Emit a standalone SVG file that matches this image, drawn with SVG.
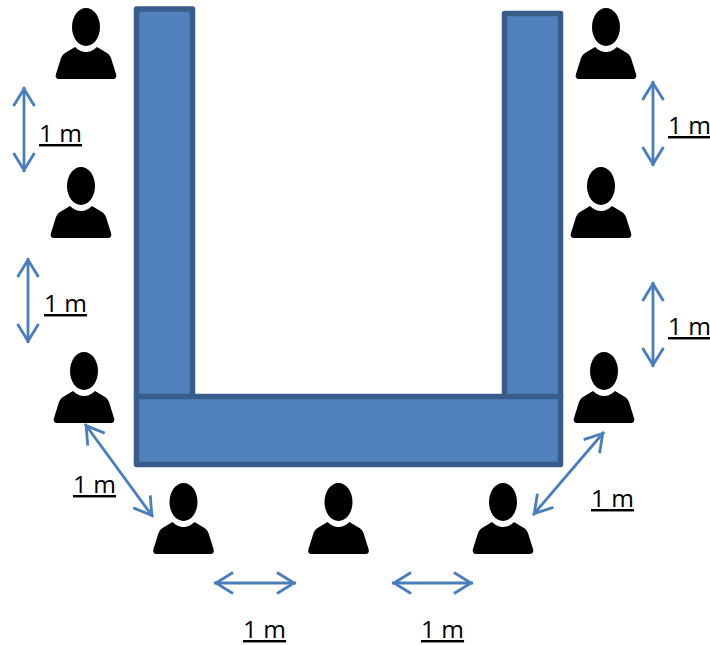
<svg xmlns="http://www.w3.org/2000/svg" width="710" height="645" viewBox="0 0 710 645">
<style>
.t{fill:#4f81bd;stroke:#385d8a;stroke-width:5.5;stroke-linejoin:round}
.c{fill:none;stroke:#4a7ebb;stroke-width:2.800;marker-start:url(#a);marker-end:url(#a)}
.l{font-family:"Open Sans","Liberation Sans",sans-serif;font-size:24.500px;fill:#000;text-decoration:underline}
</style>
<defs>
<marker id="a" markerUnits="userSpaceOnUse" viewBox="0 0 24 24" refX="20" refY="12" markerWidth="24" markerHeight="24" orient="auto-start-reverse">
<path d="M1 1.500L18 12L1 22.500" fill="none" stroke="#4a7ebb" stroke-width="2.800"/>
</marker>
<g id="p">
<ellipse cx="0" cy="19" rx="14" ry="19"/>
<path d="M-11 39C-7 43-3 44 0 44C3 44 7 43 11 39L21 45C23 46 24 48 25 50L30 66C31 69 29.500 71 27 71L-27 71C-29.500 71-31 69-30 66L-25 50C-24 48-23 46-21 45Z"/>
</g>
</defs>
<rect width="710" height="645" fill="#fff"/>
<g id="table">
<rect class="t" x="136.500" y="9" width="56" height="388"/>
<rect class="t" x="504.500" y="13.500" width="56" height="384"/>
<rect class="t" x="136.500" y="396.500" width="424" height="68"/>
</g>
<g id="p1"><use href="#p" x="86" y="8"/></g>
<g id="p2"><use href="#p" x="81" y="167"/></g>
<g id="p3"><use href="#p" x="84" y="352"/></g>
<g id="p4"><use href="#p" x="183.500" y="483"/></g>
<g id="p5"><use href="#p" x="338.500" y="483"/></g>
<g id="p6"><use href="#p" x="503" y="483"/></g>
<g id="p7"><use href="#p" x="604" y="352"/></g>
<g id="p8"><use href="#p" x="601" y="167"/></g>
<g id="p9"><use href="#p" x="606" y="8"/></g>
<g id="connectors">
<path class="c" d="M24 87V172"/>
<path class="c" d="M28 258V343"/>
<path class="c" d="M653 81V166"/>
<path class="c" d="M653 282V367"/>
<path class="c" d="M85 424L153 517"/>
<path class="c" d="M604 432L533 515"/>
<path class="c" d="M214 583H296"/>
<path class="c" d="M392 583H473"/>
</g>
<g id="labels">
<text class="l" x="39" y="142">1 m</text>
<text class="l" x="44" y="312">1 m</text>
<text class="l" x="668" y="134">1 m</text>
<text class="l" x="668" y="335">1 m</text>
<text class="l" x="73" y="493">1 m</text>
<text class="l" x="591" y="507">1 m</text>
<text class="l" x="243" y="638">1 m</text>
<text class="l" x="421" y="638">1 m</text>
</g>
</svg>
